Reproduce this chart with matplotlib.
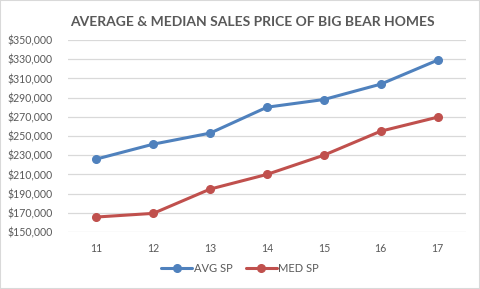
import matplotlib.pyplot as plt
from matplotlib.patches import Rectangle
from matplotlib.ticker import FuncFormatter

years = [11, 12, 13, 14, 15, 16, 17]
avg_sp = [226000, 241500, 253000, 280000, 288000, 304000, 329000]
med_sp = [165600, 169400, 194700, 210000, 230000, 255000, 269600]
y_ticks = list(range(150000, 350001, 20000))

BLUE = "#4F81BD"
RED = "#C0504D"
TEXT = "#595959"
GRID = "#D9D9D9"

plt.rcParams["font.family"] = ["Lato", "DejaVu Sans"]

fig = plt.figure(figsize=(4.8, 2.89), dpi=100)
ax = fig.add_axes([68 / 480, 1 - 232 / 289, 398 / 480, 192 / 289])

ax.plot(years, avg_sp, color=BLUE, lw=2.2, marker="o", ms=5.5, label="AVG SP",
        solid_capstyle="round")
ax.plot(years, med_sp, color=RED, lw=2.2, marker="o", ms=5.5, label="MED SP",
        solid_capstyle="round")

ax.set_xlim(10.5, 17.5)
ax.set_ylim(150000, 350000)
ax.set_xticks(years)
ax.set_yticks(y_ticks)
ax.yaxis.set_major_formatter(FuncFormatter(lambda v, p: f"${v:,.0f}"))
ax.grid(axis="y", color=GRID, lw=0.9)
ax.set_axisbelow(True)
for s in ax.spines.values():
    s.set_visible(False)
ax.tick_params(length=0, colors=TEXT, labelsize=7.6)
ax.tick_params(axis="x", pad=8)
ax.tick_params(axis="y", pad=11)

fig.text(252 / 480, 1 - 22 / 289, "AVERAGE & MEDIAN SALES PRICE OF BIG BEAR HOMES",
         ha="center", va="center", fontsize=10, fontweight="bold", color=TEXT)

fig.legend(loc="center", bbox_to_anchor=(0.5, 1 - 268 / 289), ncol=2,
           frameon=False, fontsize=8, labelcolor=TEXT, handlelength=2.8,
           handletextpad=0.1, columnspacing=1.2)

fig.patches.append(Rectangle((0, 0), 1, 1, transform=fig.transFigure,
                             fill=False, edgecolor=GRID, lw=1.5))

fig.savefig("out.png", dpi=100)
